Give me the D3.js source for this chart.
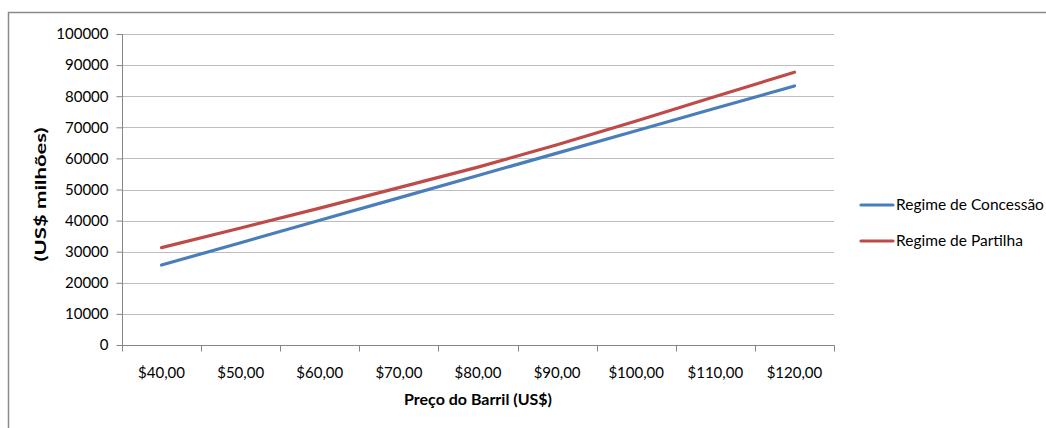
<!DOCTYPE html>
<html>
<head>
<meta charset="utf-8">
<script src="https://cdn.jsdelivr.net/npm/d3@7"></script>
<style>
  html, body { margin: 0; padding: 0; background: #fff; }
  svg { display: block; }
  text { font-family: Lato, "Open Sans", sans-serif; fill: #000; }
</style>
</head>
<body>
<svg id="chart" width="1046" height="428"></svg>
<script>
// Barrel price categories (US$)
const categories = ["$40,00", "$50,00", "$60,00", "$70,00", "$80,00", "$90,00", "$100,00", "$110,00", "$120,00"];
// Government take (US$ millions) under each fiscal regime
const concessao = [25700, 32900, 40100, 47300, 54500, 61700, 68900, 76100, 83300];
const partilha  = [31300, 37600, 44000, 50600, 57200, 64400, 72000, 79900, 87700];
const yTicks = [0, 10000, 20000, 30000, 40000, 50000, 60000, 70000, 80000, 90000, 100000];
const seriesNames = ["Regime de Concessão", "Regime de Partilha"];
const seriesColors = ["#4A7EBB", "#BE4B48"];

const svg = d3.select("#chart");

// chart frame
svg.append("path")
  .attr("d", "M8.5,430V12.5H1050")
  .attr("fill", "none")
  .attr("stroke", "#8a8a8a")
  .attr("stroke-width", 1.5);

const plot = { left: 122, right: 834, top: 34, bottom: 345 };

const x = d3.scaleBand().domain(categories).range([plot.left, plot.right]).padding(0);
const y = d3.scaleLinear().domain([0, 100000]).range([plot.bottom, plot.top]);

// horizontal gridlines
svg.append("g")
  .selectAll("line")
  .data(yTicks.filter(d => d > 0))
  .join("line")
  .attr("x1", plot.left).attr("x2", plot.right)
  .attr("y1", d => Math.round(y(d)) + 0.5).attr("y2", d => Math.round(y(d)) + 0.5)
  .attr("stroke", "#bdbdbd").attr("stroke-width", 1.2);

// y axis
const yAxis = svg.append("g")
  .attr("transform", `translate(${plot.left + 0.5},0)`)
  .call(d3.axisLeft(y).tickValues(yTicks).tickSize(6).tickPadding(8).tickFormat(d3.format("d")));
yAxis.select(".domain").attr("stroke", "#868686").attr("d", `M0,${plot.bottom + 0.5}V${plot.top}`);
yAxis.selectAll(".tick line").attr("stroke", "#868686");
yAxis.selectAll(".tick text").style("font-size", "15px").attr("fill", "#000");

// x axis with ticks between categories
const xAxis = svg.append("g")
  .attr("transform", `translate(0,${plot.bottom + 0.5})`);
xAxis.append("line")
  .attr("x1", plot.left).attr("x2", plot.right + 0.5)
  .attr("stroke", "#868686");
const boundaries = categories.map(c => x(c)).concat([x(categories[categories.length - 1]) + x.bandwidth()]);
xAxis.selectAll("line.tick")
  .data(boundaries)
  .join("line")
  .attr("class", "tick")
  .attr("x1", d => Math.round(d) + 0.5).attr("x2", d => Math.round(d) + 0.5)
  .attr("y1", 0).attr("y2", 6)
  .attr("stroke", "#868686");
xAxis.selectAll("text")
  .data(categories)
  .join("text")
  .attr("x", d => x(d) + x.bandwidth() / 2)
  .attr("y", 32)
  .attr("text-anchor", "middle")
  .style("font-size", "15px")
  .text(d => d);

// series lines
const line = d3.line()
  .x((d, i) => x(categories[i]) + x.bandwidth() / 2)
  .y(d => y(d));

[concessao, partilha].forEach((vals, i) => {
  svg.append("path")
    .datum(vals)
    .attr("fill", "none")
    .attr("stroke", seriesColors[i])
    .attr("stroke-width", 3.2)
    .attr("stroke-linejoin", "round")
    .attr("stroke-linecap", "round")
    .attr("d", line);
});

// axis titles
svg.append("text")
  .attr("x", (plot.left + plot.right) / 2)
  .attr("y", 405)
  .attr("text-anchor", "middle")
  .style("font-size", "16px")
  .style("font-weight", "bold")
  .text("Preço do Barril (US$)");

svg.append("text")
  .attr("transform", `translate(46,${(plot.top + plot.bottom) / 2 + 5}) rotate(-90)`)
  .attr("text-anchor", "middle")
  .attr("textLength", 134)
  .attr("lengthAdjust", "spacingAndGlyphs")
  .style("font-size", "16px")
  .style("font-weight", "bold")
  .text("(US$ milhões)");

// legend
const legend = svg.append("g");
seriesNames.forEach((name, i) => {
  const ly = 205 + i * 36;
  legend.append("line")
    .attr("x1", 861).attr("x2", 893)
    .attr("y1", ly).attr("y2", ly)
    .attr("stroke", seriesColors[i])
    .attr("stroke-width", 3.2)
    .attr("stroke-linecap", "round");
  legend.append("text")
    .attr("x", 896).attr("y", ly + 5)
    .style("font-size", "15.5px")
    .text(name);
});
</script>
</body>
</html>
